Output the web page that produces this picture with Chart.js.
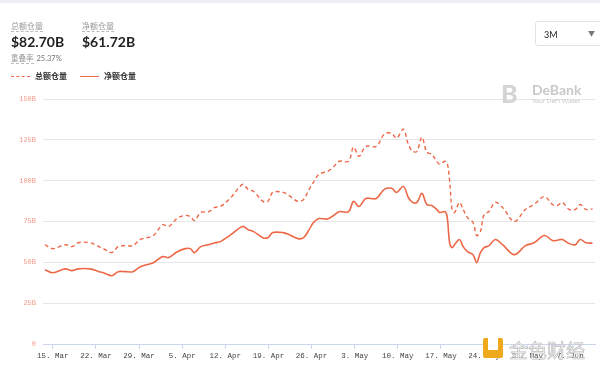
<!DOCTYPE html>
<html>
<head>
<meta charset="utf-8">
<script src="https://cdn.jsdelivr.net/npm/chart.js@4/dist/chart.umd.min.js"></script>
<style>
    body { margin: 0; width: 600px; height: 370px; position: relative; overflow: hidden; background: #fff; font-family: Lato, "Noto Sans CJK SC", sans-serif; }
    #chart { position: absolute; left: 0; top: 0; }
    .topbar { position: absolute; left: 0; top: 0; width: 600px; height: 3px; background: #eceef2; }
    .stat { position: absolute; top: 13px; }
    .stat .lbl { font-size: 8px; color: #9a9a9a; border-bottom: 1px dashed #bbb; line-height: 10px; display: inline-block; }
    .stat .val { font-size: 14px; font-weight: 700; color: #222; line-height: 16px; margin-top: 2px; }
    .stat .sub { font-size: 7.5px; color: #777; margin-top: 2px; }
    .stat .sub span { border-bottom: 1px dashed #bbb; color: #999; margin-right: 3px; }
    .select { position: absolute; left: 535px; top: 21px; width: 70px; height: 25px; border: 1px solid #e3e3e3; border-radius: 3px; box-sizing: border-box; font-size: 9px; color: #222; }
    .select .t { position: absolute; left: 8px; top: 7px; }
    .select .c { position: absolute; left: 52px; top: 6px; font-size: 7px; color: #777; }
    .legend { position: absolute; top: 71px; font-size: 8px; font-weight: 700; color: #333; line-height: 11px; }
    .legend .swatch { position: absolute; left: 0; top: 5px; width: 19px; height: 0; }
    .legend .name { margin-left: 24px; }
    .debank { position: absolute; left: 501px; top: 82px; color: #c9c9c9; }
    .debank .logo { position: absolute; left: 0; top: 0; font-size: 25px; font-weight: 900; color: #d4d4d4; line-height: 22px; }
    .debank .name { position: absolute; left: 31px; top: 0; font-size: 14px; font-weight: 700; line-height: 15px; white-space: nowrap; }
    .debank .slogan { position: absolute; left: 31px; top: 15px; font-size: 6.5px; white-space: nowrap; }
    .jinse { position: absolute; left: 483px; top: 336px; }
    .jinse .sq { position: absolute; left: 0; top: 2px; width: 20px; height: 20px; background: #f0a81c; border-radius: 2px; }
    .jinse .sq2 { position: absolute; left: 5px; top: 0; width: 10px; height: 14px; background: #fff; }
    .jinse .txt { position: absolute; left: 26px; top: 0; font-size: 19px; color: #f4f4f4; white-space: nowrap; -webkit-text-stroke: 0.6px #b8b8b8; font-family: "Noto Sans CJK SC"; }
</style>
</head>
<body>
<canvas id="chart" width="600" height="370"></canvas>
<div class="topbar"></div>

<div class="stat" style="left:11px">
    <div class="lbl">总额仓量</div>
    <div class="val">$82.70B</div>
    <div class="sub"><span>重叠率</span>25.37%</div>
</div>
<div class="stat" style="left:82px">
    <div class="lbl">净额仓量</div>
    <div class="val">$61.72B</div>
</div>

<div class="select"><span class="t">3M</span><span class="c">▼</span></div>

<div class="legend" style="left:11px"><div class="swatch" style="border-top:1.6px dashed #ee6848"></div><span class="name">总额仓量</span></div>
<div class="legend" style="left:80px"><div class="swatch" style="border-top:1.6px solid #ee6848"></div><span class="name">净额仓量</span></div>

<div class="debank">
    <div class="logo">B</div>
    <div class="name">DeBank</div>
    <div class="slogan">Your DeFi Wallet</div>
</div>

<div class="jinse"><div class="sq"></div><div class="sq2"></div><div class="txt">金色财经</div></div>

<script>
// Data (day offset from 15 Mar, values in billions USD)
const days = [-1.3, 0, 2.0, 3.1, 4.1, 6.0, 7.5, 8.5, 9.6, 10.6, 11.7, 13.0, 14.2, 16.3, 17.8, 18.8,
    20.2, 21.5, 22.3, 23.0, 24.0, 25.3, 26.3, 27.2, 28.9, 30.8, 31.7, 32.6, 34.1, 34.9, 35.7, 37.4,
    38.3, 39.8, 40.7, 41.6, 42.3, 43.2, 44.6, 45.5, 46.5, 48.0, 48.8, 49.7, 50.8, 52.5, 53.8, 55.0,
    55.8, 56.9, 57.7, 58.4, 59.1, 59.9, 60.7, 61.5, 62.3, 62.8, 63.6, 64.0, 64.4, 64.8, 65.2, 66.0,
    66.6, 67.3, 68.2, 68.8, 69.4, 70.0, 70.8, 71.8, 73.0, 74.9, 76.7, 78.1, 79.8, 81.1, 81.9, 82.7,
    83.8, 84.8, 85.6, 86.5, 87.6];

const totalValues = [60.8, 58.4, 60.8, 59.6, 62, 62, 59.6, 57.8, 56, 59.6, 60.2, 60.2, 64, 66.4, 73, 72,
    77, 78.7, 78, 75.6, 80.5, 81, 83.6, 84.2, 89.7, 97.7, 94.7, 93.4, 87.3, 87.3, 92.8, 92.8,
    91, 87.3, 88.5, 94.7, 99, 103.9, 105.7, 108.2, 111.9, 111.9, 120.5, 114.9, 121, 121, 128.5, 129,
    126, 131.5, 122.3, 118, 118, 126.6, 117.4, 116.2, 111.9, 110, 111.9, 111, 100, 82.4, 80.5, 86.7,
    82.4, 77.4, 74.4, 66.4, 68.8, 79.3, 81.1, 86.7, 83.6, 75, 82.4, 85.4, 90.3, 85.4, 84.8, 86.7,
    82.4, 82.4, 85.4, 82.4, 82.7];

const netValues = [45.5, 43.6, 46, 44.9, 46, 46, 44.3, 43.2, 41.8, 44.3, 44.3, 44.3, 47.3, 49.8, 53.5, 52.9,
    56.5, 58.4, 58.4, 55.9, 59.6, 60.8, 62, 62.7, 67, 72, 70, 68.8, 65.1, 65.1, 68.2, 68.2,
    67, 64.5, 65.1, 70, 74.4, 76.8, 76.5, 78.5, 81, 81, 87.3, 84.2, 89.1, 89.1, 94.7, 95.3,
    92.8, 96.5, 89.7, 86.7, 86.7, 92.2, 85.4, 84.8, 82.4, 80.5, 81.1, 78, 62, 59, 60.8, 64,
    59.6, 56.5, 54.7, 49.8, 56, 59, 60.2, 64, 60.8, 54.7, 60.2, 62, 66.4, 63.3, 63.5, 64,
    61.5, 60.8, 64, 62, 61.72];

const tickDays = [0, 7, 14, 21, 28, 35, 42, 49, 56, 63, 70, 77, 84];
const tickLabels = ['15. Mar', '22. Mar', '29. Mar', '5. Apr', '12. Apr', '19. Apr', '26. Apr',
    '3. May', '10. May', '17. May', '24. May', '31. May', '7. Jun'];
const yTicks = [0, 25, 50, 75, 100, 125, 150];

const lineColor = '#ee6848';

new Chart(document.getElementById('chart'), {
    type: 'line',
    data: {
        datasets: [{
            label: '总额仓量',
            data: days.map((d, i) => ({ x: d, y: totalValues[i] })),
            borderColor: lineColor,
            borderWidth: 1.4,
            borderDash: [4, 3],
            pointRadius: 0,
            tension: 0.35
        }, {
            label: '净额仓量',
            data: days.map((d, i) => ({ x: d, y: netValues[i] })),
            borderColor: lineColor,
            borderWidth: 1.6,
            pointRadius: 0,
            tension: 0.35
        }]
    },
    options: {
        responsive: false,
        animation: false,
        layout: { padding: { top: 99, right: 5, left: 0, bottom: 0 } },
        plugins: { legend: { display: false }, tooltip: { enabled: false } },
        scales: {
            x: {
                type: 'linear',
                min: -1.6,
                max: 88,
                afterBuildTicks: axis => { axis.ticks = tickDays.map(v => ({ value: v })); },
                afterFit: s => { s.height = 26; },
                grid: { drawOnChartArea: false, drawTicks: true, tickLength: 5, color: '#ccd6eb' },
                border: { color: '#ccd6eb' },
                ticks: {
                    padding: 3,
                    maxRotation: 0,
                    autoSkip: false,
                    color: '#444',
                    font: { family: '"Liberation Mono", monospace', size: 7.5 },
                    callback: (v, i) => tickLabels[i]
                }
            },
            y: {
                min: 0,
                max: 150,
                afterBuildTicks: axis => { axis.ticks = yTicks.map(v => ({ value: v })); },
                afterFit: s => { s.width = 43; },
                grid: { color: '#e6e6e6', drawTicks: false },
                border: { display: false },
                ticks: {
                    padding: 7,
                    color: '#f39a8a',
                    font: { family: '"Liberation Mono", monospace', size: 7 },
                    callback: v => v === 0 ? '0' : v + 'B'
                }
            }
        }
    }
});
</script>
</body>
</html>
